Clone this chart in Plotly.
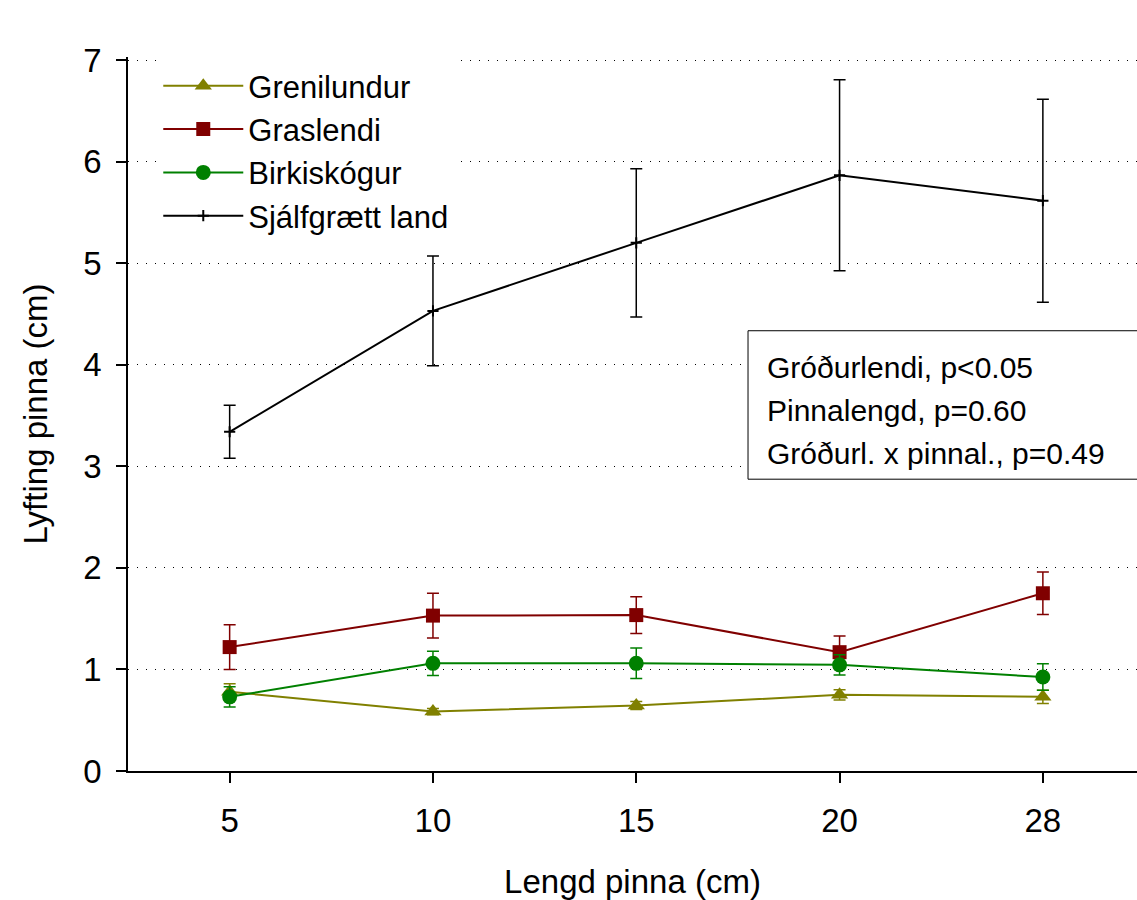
import plotly.graph_objects as go

pin_lengths = ["5", "10", "15", "20", "28"]

grenilundur = [0.78, 0.585, 0.645, 0.75, 0.73]
grenilundur_err = [0.08, 0.03, 0.04, 0.05, 0.065]

graslendi = [1.22, 1.53, 1.535, 1.17, 1.75]
graslendi_err = [0.22, 0.22, 0.18, 0.16, 0.21]

birkiskogur = [0.73, 1.06, 1.06, 1.045, 0.925]
birkiskogur_err = [0.10, 0.12, 0.15, 0.10, 0.13]

sjalfgraett = [3.34, 4.53, 5.20, 5.865, 5.615]
sjalfgraett_err = [0.26, 0.54, 0.73, 0.94, 1.00]

stats_lines = ["Gróðurlendi, p<0.05", "Pinnalengd, p=0.60", "Gróðurl. x pinnal., p=0.49"]

FONT = "Liberation Sans, Arial, sans-serif"

series = [
    ("Grenilundur", grenilundur, grenilundur_err, "#808000", "triangle-up", 15),
    ("Graslendi", graslendi, graslendi_err, "#800000", "square", 14),
    ("Birkiskógur", birkiskogur, birkiskogur_err, "#008000", "circle", 15),
]

fig = go.Figure()
for name, vals, errs, col, sym, sz in series:
    fig.add_trace(go.Scatter(
        x=pin_lengths, y=vals, name=name, mode="lines+markers",
        line=dict(color=col, width=2),
        marker=dict(symbol=sym, size=sz, color=col),
        error_y=dict(type="data", array=errs, visible=True, color=col,
                     thickness=1.5, width=6),
    ))

fig.add_trace(go.Scatter(
    x=pin_lengths, y=sjalfgraett, name="Sjálfgrætt land", mode="lines+markers",
    line=dict(color="black", width=2),
    marker=dict(symbol="cross-thin", size=8, color="black",
                line=dict(color="black", width=2)),
    error_y=dict(type="data", array=sjalfgraett_err, visible=True, color="black",
                 thickness=1.5, width=6),
))

fig.add_shape(type="rect", xref="paper", yref="paper",
              x0=0.6145, x1=1.05, y0=0.4087, y1=0.6166,
              line=dict(color="black", width=1), fillcolor="white", layer="above")
stats_y = [0.565, 0.505, 0.445]
for txt, yy in zip(stats_lines, stats_y):
    fig.add_annotation(xref="paper", yref="paper", x=0.631, y=yy,
                       xanchor="left", yanchor="middle", align="left",
                       text=txt, showarrow=False,
                       font=dict(family=FONT, size=30, color="black"))

fig.update_layout(
    width=1137, height=900,
    margin=dict(l=128, r=0, t=57, b=129),
    paper_bgcolor="white", plot_bgcolor="white",
    font=dict(family=FONT, size=33, color="black"),
    showlegend=True,
    legend=dict(x=0.03, y=0.997, xanchor="left", yanchor="top",
                bgcolor="white", borderwidth=0,
                font=dict(family=FONT, size=31, color="black"),
                itemwidth=80, tracegroupgap=0),
    xaxis=dict(type="category", range=[-0.5, 4.463],
               showline=True, linecolor="black", linewidth=1.5,
               ticks="outside", ticklen=10, tickwidth=1.5, tickcolor="black",
               showgrid=False, zeroline=False,
               tickfont=dict(size=33), ticklabelstandoff=10,
               title=dict(text="Lengd pinna (cm)", standoff=34, font=dict(size=33))),
    yaxis=dict(range=[0, 7.03], tickvals=[0, 1, 2, 3, 4, 5, 6, 7],
               showline=True, linecolor="black", linewidth=1.5,
               ticks="outside", ticklen=10, tickwidth=1.5, tickcolor="black",
               showgrid=True, gridcolor="black", gridwidth=1, griddash="1px,8px",
               zeroline=False,
               tickfont=dict(size=33), ticklabelstandoff=8,
               title=dict(text="Lyfting pinna (cm)", standoff=26, font=dict(size=33))),
)

fig.write_html("out.html")
